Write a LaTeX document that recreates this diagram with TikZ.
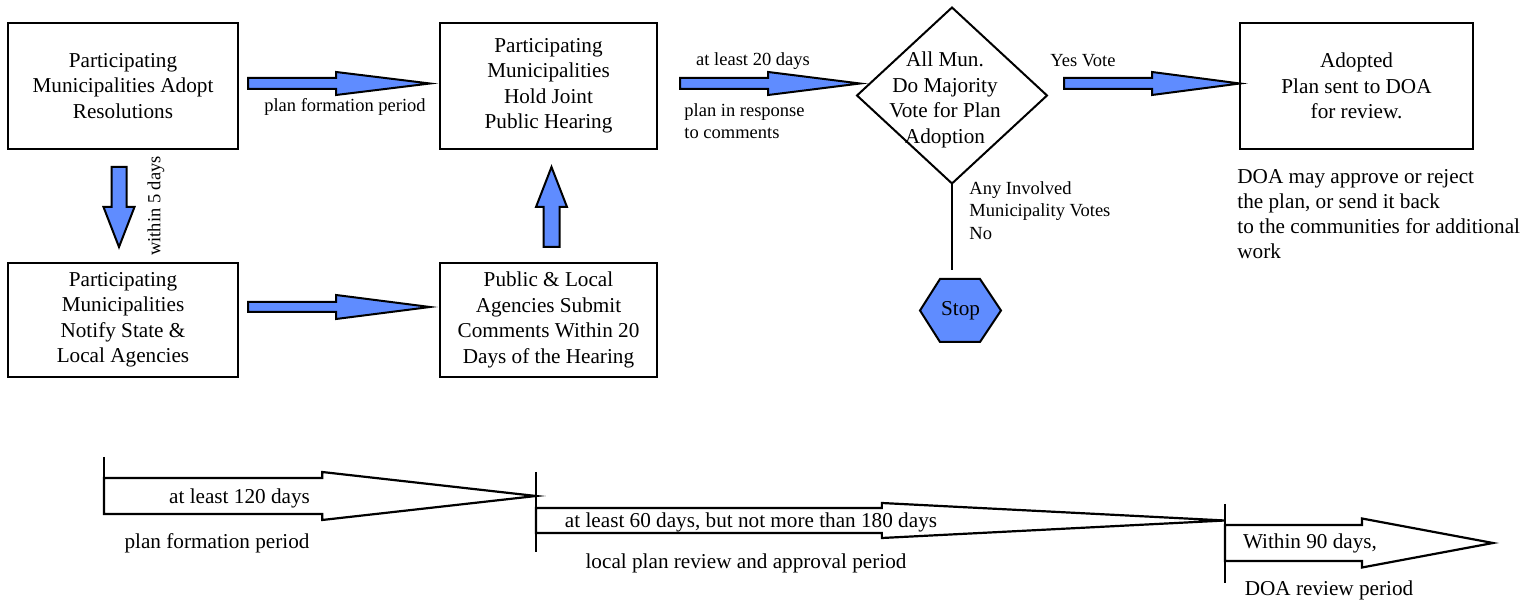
\documentclass[tikz,border=0pt]{standalone}
\usepackage{fontspec}
\setmainfont{Liberation Serif}
\usetikzlibrary{calc,shapes.geometric}
\definecolor{arrowblue}{RGB}{95,140,255}
\newcommand\mainsize{\fontsize{10.6}{12.75}\selectfont}
\newcommand\smallsize{\fontsize{9.25}{11.25}\selectfont}
\pgfdeclarelayer{bg}
\pgfsetlayers{bg,main}
% block arrow: #1 style, #2 name prefix (needs coordinates #2s and #2t), #3 head-base fraction, #4 shaft half width, #5 head half width
\newcommand\barrow[5][]{%
  \coordinate (#2hb) at ($(#2s)!#3!(#2t)$);
  \draw[#1] ($(#2s)!#4!90:(#2t)$) -- ($(#2hb)!#4!90:(#2t)$) -- ($(#2hb)!#5!90:(#2t)$) -- (#2t)
    -- ($(#2hb)!#5!-90:(#2t)$) -- ($(#2hb)!#4!-90:(#2t)$) -- ($(#2s)!#4!-90:(#2t)$) -- cycle;}
\begin{document}
\begin{tikzpicture}[x=0.5pt,y=-0.5pt,
  box/.style={draw,line width=1pt,inner sep=0pt,outer sep=0pt,align=center,font=\mainsize},
  lbl/.style={inner sep=0pt,font=\smallsize},
  mlbl/.style={inner sep=0pt,font=\mainsize},
  flow/.style={draw=black,fill=arrowblue,line width=1pt,line join=miter},
  tl/.style={draw=black,fill=white,line width=1.1pt,line join=miter},
  tick/.style={line width=1.1pt}]
\useasboundingbox (0,0) rectangle (1525,603);

% boxes
\node[box,minimum width=115pt,minimum height=63pt] (A) at (123,86) {Participating\\Municipalities Adopt\\Resolutions};
\node[box,minimum width=115pt,minimum height=57pt] (B) at (123,320) {Participating\\Municipalities\\Notify State \&\\Local Agencies};
\node[box,minimum width=108.5pt,minimum height=63pt] (C) at (548.5,86) {Participating\\Municipalities\\Hold Joint\\Public Hearing};
\node[box,minimum width=108.5pt,minimum height=57pt] (D) at (548.5,320) {Public \& Local\\Agencies Submit\\Comments Within 20\\Days of the Hearing};
\node[box,minimum width=116.5pt,minimum height=63pt] (E) at (1356.5,86) {Adopted\\Plan sent to DOA\\for review.};

% decision diamond
\node[draw,diamond,line width=1pt,minimum width=95pt,minimum height=88pt,inner sep=0pt,outer sep=0pt] (dm) at (952,95.5) {};
\node[mlbl,align=center] (dmtext) at (945,100) {All Mun.\\Do Majority\\Vote for Plan\\Adoption};

% stop hexagon
\node[mlbl,minimum width=40.5pt,minimum height=31.5pt,outer sep=0pt] (stop) at (960.5,310.5) {Stop};
\begin{pgfonlayer}{bg}
\draw[flow] (stop.west) -- ($(stop.north west)+(20,0)$) -- ($(stop.north east)+(-21,0)$) -- (stop.east)
  -- ($(stop.south east)+(-21,0)$) -- ($(stop.south west)+(20,0)$) -- cycle;
\end{pgfonlayer}
\coordinate (noend) at ($(stop.north -| dm.south)+(0,-9)$);
\draw[line width=1pt] (dm.south) -- (noend);

% flow arrows
\coordinate (a1s) at ($(A.east)+(10,-2.5)$);
\coordinate (a1t) at ($(C.west)+(-10,-2.5)$);
\barrow[flow]{a1}{0.484}{2.75pt}{5.75pt}
\coordinate (a2s) at ($(C.east)+(23,-2.5)$);
\coordinate (a2t) at ($(dm.west)+(3,-12)$);
\barrow[flow]{a2}{0.49}{2.75pt}{5.75pt}
\coordinate (a3s) at ($(dm.east)+(17,-12)$);
\coordinate (a3t) at ($(E.west)+(0,-2.5)$);
\barrow[flow]{a3}{0.5}{2.75pt}{5.75pt}
\coordinate (a4s) at ($(B.east)+(10,-13)$);
\coordinate (a4t) at ($(D.west)+(-10,-13)$);
\barrow[flow]{a4}{0.484}{2.5pt}{6pt}
\coordinate (a5s) at ($(A.south)+(-4,18)$);
\coordinate (a5t) at ($(B.north)+(-4,-16)$);
\barrow[flow]{a5}{0.5}{3.75pt}{7.75pt}
\coordinate (a6s) at ($(D.north)+(3,-16)$);
\coordinate (a6t) at ($(C.south)+(3,18)$);
\barrow[flow]{a6}{0.5}{4pt}{7.75pt}

% flow labels
\node[lbl] (l1) at (345,107) {plan formation period};
\node[lbl,rotate=90] (l2) at (156,206) {within 5 days};
\node[lbl] (l3) at (753,61) {at least 20 days};
\node[lbl,anchor=west,align=left] (l4) at (684,121) {plan in response\\to comments};
\node[lbl] (l5) at (1083,61) {Yes Vote};
\node[lbl,anchor=west,align=left] (l6) at (969,210.5) {Any Involved\\Municipality Votes\\No};
\node[mlbl,anchor=west,align=left,font=\fontsize{10.6}{12.6}\selectfont] (l7) at (1237,214) {DOA may approve or reject\\the plan, or send it back\\to the communities for additional\\work};

% timeline
\coordinate (t1s) at (104,496);
\coordinate (t1t) at (536,496);
\barrow[tl]{t1}{0.505}{9pt}{12pt}
\coordinate (t2s) at (536,520.5);
\coordinate (t2t) at (1225,520.5);
\barrow[tl]{t2}{0.502}{6.25pt}{8.75pt}
\coordinate (t3s) at (1225,543);
\coordinate (t3t) at (1493,543);
\barrow[tl]{t3}{0.511}{9pt}{12.25pt}
\coordinate (k1a) at (104,457);
\coordinate (k1b) at (104,514);
\draw[tick] (k1a) -- (k1b);
\coordinate (k2a) at (536,472);
\coordinate (k2b) at (536,552);
\draw[tick] (k2a) -- (k2b);
\coordinate (k3a) at (1225,504);
\coordinate (k3b) at (1225,583);
\draw[tick] (k3a) -- (k3b);

\node[mlbl] (b1) at (239.5,498) {at least 120 days};
\node[mlbl] (b2) at (217,543) {plan formation period};
\node[mlbl] (b3) at (751,522) {at least 60 days, but not more than 180 days};
\node[mlbl] (b4) at (746,563) {local plan review and approval period};
\node[mlbl] (b5) at (1310,543) {Within 90 days,};
\node[mlbl] (b6) at (1329,590) {DOA review period};
\end{tikzpicture}
\end{document}
